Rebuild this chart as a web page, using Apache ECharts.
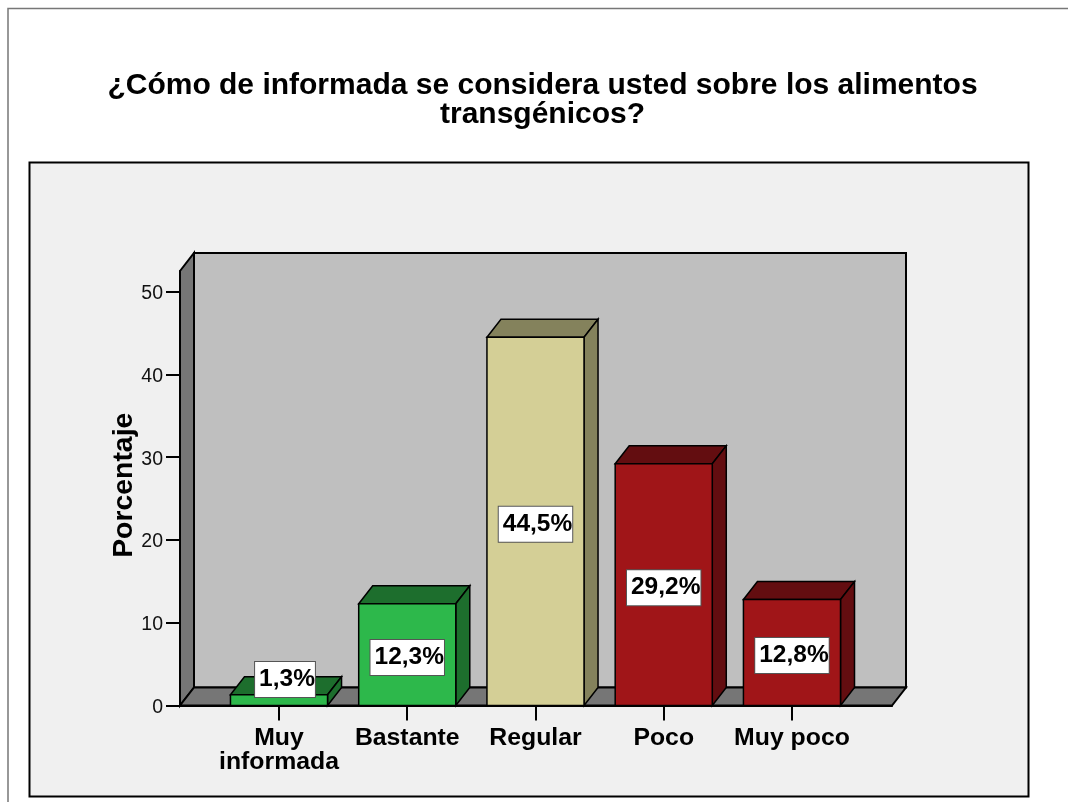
<!DOCTYPE html>
<html>
<head>
<meta charset="utf-8">
<title>Alimentos transgénicos</title>
<script src="https://cdn.jsdelivr.net/npm/echarts@6/dist/echarts.min.js"></script>
<style>
  html, body { margin: 0; padding: 0; background: #fff; }
  #chart { width: 1068px; height: 802px; }
</style>
</head>
<body>
<div id="chart"></div>
<script>
const categories = ['Muy\ninformada', 'Bastante', 'Regular', 'Poco', 'Muy poco']
const percentages = [1.3, 12.3, 44.5, 29.2, 12.8]
const yTicks = [0, 10, 20, 30, 40, 50]
const xTicks = [0, 1, 2, 3, 4]

const frontColors = ['#2db84b', '#2db84b', '#d4cf96', '#a01518', '#a01518']
const sideColors = ['#1d6e2d', '#1d6e2d', '#84825c', '#630d10', '#630d10']

const FONT = '"Liberation Sans", Arial, sans-serif'
const DEPTH_X = 14
const DEPTH_Y = -18
const BAR_WIDTH = 0.757
const X_MIN = -0.772
const X_MAX = 4.78
const Y_MAX = 52.5

const chart = echarts.init(document.getElementById('chart'))

const poly = (points, fill, lineWidth = 2) => ({
  type: 'polygon',
  shape: { points },
  style: { fill, stroke: '#000', lineWidth }
})

// back wall, left wall and floor of the box
const renderFrame = (params, api) => {
  const a = api.coord([X_MIN, 0])
  const b = api.coord([X_MAX, 0])
  const c = api.coord([X_MIN, Y_MAX])
  const shift = p => [p[0] + DEPTH_X, p[1] + DEPTH_Y]
  const backRight = [b[0] + DEPTH_X, c[1] + DEPTH_Y]
  return {
    type: 'group',
    children: [
      poly([shift(c), backRight, shift(b), shift(a)], '#bfbfbf'),
      poly([a, shift(a), shift(c), c], '#767676'),
      poly([a, b, shift(b), shift(a)], '#767676')
    ]
  }
}

const renderBar = (params, api) => {
  const i = api.value(0)
  const v = api.value(1)
  const w = api.size([BAR_WIDTH, 0])[0]
  const top = api.coord([i, v])
  const base = api.coord([i, 0])
  const l = top[0] - w / 2
  const r = l + w
  const mid = (top[1] + base[1]) / 2
  // short bars push the label up and out of the bar
  const short = base[1] - top[1] < 34
  const labelY = short ? base[1] - 26 : mid + 3
  const labelX = short ? top[0] + 6 : top[0]
  return {
    type: 'group',
    children: [
      poly([[l, top[1]], [l + DEPTH_X, top[1] + DEPTH_Y], [r + DEPTH_X, top[1] + DEPTH_Y], [r, top[1]]], sideColors[i], 1.5),
      poly([[r, top[1]], [r + DEPTH_X, top[1] + DEPTH_Y], [r + DEPTH_X, base[1] + DEPTH_Y], [r, base[1]]], sideColors[i], 1.5),
      poly([[l, top[1]], [r, top[1]], [r, base[1]], [l, base[1]]], frontColors[i], 1.5),
      {
        type: 'text',
        x: labelX,
        y: labelY,
        style: {
          text: v.toFixed(1).replace('.', ',') + '%',
          font: 'bold 24.5px ' + FONT,
          fill: '#000',
          align: 'center',
          verticalAlign: 'middle',
          backgroundColor: '#fff',
          borderColor: '#555',
          borderWidth: 1,
          padding: [6, 0, 4, 4]
        }
      }
    ]
  }
}

const option = {
  animation: false,
  backgroundColor: '#fff',
  title: {
    text: '¿Cómo de informada se considera usted sobre los alimentos\ntransgénicos?',
    left: 537.5,
    top: 66,
    textAlign: 'center',
    textStyle: { fontFamily: FONT, fontSize: 30, fontWeight: 'bold', color: '#000', lineHeight: 29 }
  },
  graphic: [
    { type: 'polyline', z: -10, shape: { points: [[8, 802], [8, 8.5], [1068, 8.5]] }, style: { fill: null, stroke: '#777', lineWidth: 1.5 } },
    { type: 'rect', z: -10, shape: { x: 29.5, y: 162.5, width: 999, height: 634 }, style: { fill: '#f0f0f0', stroke: '#000', lineWidth: 2 } }
  ],
  grid: { left: 180, top: 271, width: 712, height: 434.5 },
  xAxis: {
    type: 'value',
    z: 4,
    min: X_MIN,
    max: X_MAX,
    splitLine: { show: false },
    axisLine: { show: true, onZero: false, lineStyle: { color: '#000', width: 2 } },
    axisTick: { show: true, customValues: xTicks, length: 15, lineStyle: { color: '#000', width: 2 } },
    axisLabel: {
      customValues: xTicks,
      formatter: v => categories[v],
      margin: 21,
      color: '#000',
      fontFamily: FONT,
      fontSize: 24.8,
      fontWeight: 'bold',
      lineHeight: 24
    }
  },
  yAxis: {
    type: 'value',
    z: 4,
    min: 0,
    max: Y_MAX,
    name: 'Porcentaje',
    nameLocation: 'middle',
    nameGap: 42,
    nameMoveOverlap: false,
    nameTextStyle: { fontFamily: FONT, fontSize: 28.4, fontWeight: 'bold', color: '#000', padding: [0, 0, 0, 6] },
    splitLine: { show: false },
    axisLine: { show: true, onZero: false, lineStyle: { color: '#000', width: 2 } },
    axisTick: { show: true, customValues: yTicks, length: 14, lineStyle: { color: '#000', width: 2 } },
    axisLabel: {
      customValues: yTicks,
      margin: 17,
      verticalAlign: 'top',
      lineHeight: 4,
      color: '#111',
      fontFamily: FONT,
      fontSize: 19.5
    }
  },
  series: [
    {
      type: 'custom',
      name: 'frame',
      silent: true,
      clip: false,
      z: 1,
      data: [[0, 0]],
      renderItem: renderFrame
    },
    {
      type: 'custom',
      name: 'Porcentaje',
      clip: false,
      z: 3,
      encode: { x: 0, y: 1 },
      data: percentages.map((p, i) => [i, p]),
      renderItem: renderBar
    }
  ]
}

chart.setOption(option)
</script>
</body>
</html>
